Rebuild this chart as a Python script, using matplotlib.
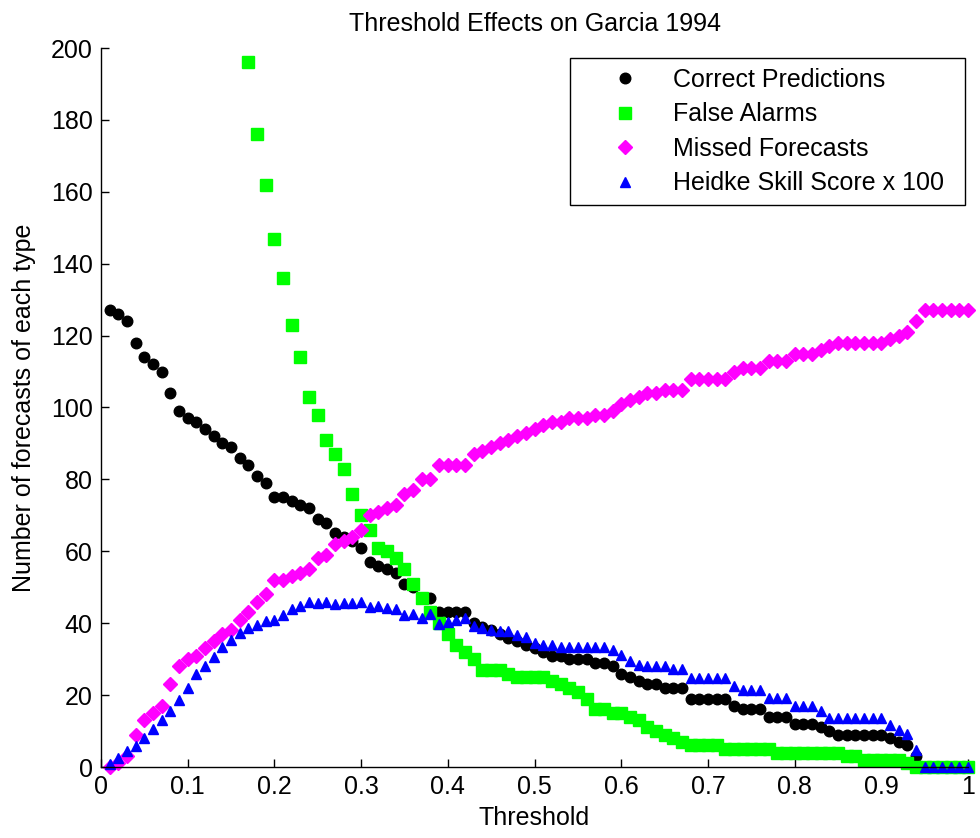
import numpy as np
import matplotlib
matplotlib.use("Agg")
import matplotlib.pyplot as plt

plt.rcParams['font.family'] = ['Liberation Sans', 'DejaVu Sans']

# ---- data (thresholds 0.01 .. 1.00) ----
thresholds = np.arange(1, 101) / 100.0

correct_predictions = [
    127, 126, 124, 118, 114, 112, 110, 104, 99, 97,
    96, 94, 92, 90, 89, 86, 84, 81, 79, 75,
    75, 74, 73, 72, 69, 68, 65, 64, 63, 61,
    57, 56, 55, 54, 51, 50, 47, 47, 43, 43,
    43, 43, 40, 39, 38, 37, 36, 35, 34, 33,
    32, 31, 31, 30, 30, 30, 29, 29, 28, 26,
    25, 24, 23, 23, 22, 22, 22, 19, 19, 19,
    19, 19, 17, 16, 16, 16, 14, 14, 14, 12,
    12, 12, 11, 10, 9, 9, 9, 9, 9, 9,
    8, 7, 6, 3, 0, 0, 0, 0, 0, 0,
]

missed_forecasts = [
    0, 1, 3, 9, 13, 15, 17, 23, 28, 30,
    31, 33, 35, 37, 38, 41, 43, 46, 48, 52,
    52, 53, 54, 55, 58, 59, 62, 63, 64, 66,
    70, 71, 72, 73, 76, 77, 80, 80, 84, 84,
    84, 84, 87, 88, 89, 90, 91, 92, 93, 94,
    95, 96, 96, 97, 97, 97, 98, 98, 99, 101,
    102, 103, 104, 104, 105, 105, 105, 108, 108, 108,
    108, 108, 110, 111, 111, 111, 113, 113, 113, 115,
    115, 115, 116, 117, 118, 118, 118, 118, 118, 118,
    119, 120, 121, 124, 127, 127, 127, 127, 127, 127,
]

# False alarms are above 200 (off the chart) for thresholds below 0.17
false_alarm_thresholds = thresholds[16:]
false_alarms = [
    196, 176, 162, 147,
    136, 123, 114, 103, 98, 91, 87, 83, 76, 70,
    66, 61, 60, 58, 55, 51, 47, 43, 40, 37,
    34, 32, 30, 27, 27, 27, 26, 25, 25, 25,
    25, 24, 23, 22, 21, 19, 16, 16, 15, 15,
    14, 13, 11, 10, 9, 8, 7, 6, 6, 6,
    6, 5, 5, 5, 5, 5, 5, 4, 4, 4,
    4, 4, 4, 4, 4, 3, 3, 2, 2, 2,
    2, 2, 1, 0, 0, 0, 0, 0, 0, 0,
]

heidke_x100 = [
    0.8, 2.6, 4.4, 5.8, 8.1, 10.6, 13.2, 15.5, 18.5, 22.0,
    26.0, 28.0, 30.7, 33.5, 35.3, 37.3, 38.8, 39.4, 40.6, 40.8,
    42.4, 43.9, 44.8, 46.0, 45.5, 46.0, 45.4, 45.6, 45.6, 45.8,
    44.6, 44.8, 44.2, 44.0, 42.3, 42.5, 41.4, 42.5, 39.8, 40.3,
    41.0, 41.4, 39.2, 38.6, 38.1, 37.7, 37.7, 36.8, 36.3, 34.4,
    34.0, 34.0, 33.5, 33.5, 33.5, 33.5, 33.5, 33.5, 32.6, 31.2,
    29.4, 28.4, 28.1, 28.1, 28.2, 27.3, 27.3, 24.7, 24.7, 24.7,
    24.7, 24.7, 22.4, 21.5, 21.5, 21.5, 19.2, 19.2, 19.2, 16.9,
    16.9, 16.9, 15.5, 13.6, 13.6, 13.6, 13.6, 13.6, 13.6, 13.6,
    11.8, 10.4, 9.2, 4.8, 0, 0, 0, 0, 0, 0,
]

series_labels = ["Correct Predictions", "False Alarms", "Missed Forecasts",
                 "Heidke Skill Score x 100"]
x_ticks = [0, 0.1, 0.2, 0.3, 0.4, 0.5, 0.6, 0.7, 0.8, 0.9, 1.0]
x_tick_labels = ["0", "0.1", "0.2", "0.3", "0.4", "0.5", "0.6", "0.7", "0.8", "0.9", "1"]
y_ticks = [0, 20, 40, 60, 80, 100, 120, 140, 160, 180, 200]

# ---- figure ----
W, H = 980, 838
fig = plt.figure(figsize=(W / 100, H / 100), dpi=100)
left, right, top, bottom = 101, 968, 48, 767
ax = fig.add_axes([left / W, 1 - bottom / H, (right - left) / W, (bottom - top) / H])

ax.plot(thresholds, correct_predictions, linestyle='none', marker='o',
        color='#000000', markersize=7.6, clip_on=False, label=series_labels[0])
ax.plot(false_alarm_thresholds, false_alarms, linestyle='none', marker='s',
        color='#00ff00', markersize=8.4, clip_on=False, label=series_labels[1])
ax.plot(thresholds, missed_forecasts, linestyle='none', marker='D',
        color='#ff00ff', markersize=6.7, clip_on=False, label=series_labels[2])
ax.plot(thresholds, heidke_x100, linestyle='none', marker='^',
        color='#0000ff', markersize=7.8, clip_on=False, label=series_labels[3])

ax.set_xlim(0, 1)
ax.set_ylim(0, 200)
ax.set_xticks(x_ticks)
ax.set_xticklabels(x_tick_labels)
ax.set_yticks(y_ticks)

for s in ['top', 'right']:
    ax.spines[s].set_visible(False)
for s in ['left', 'bottom']:
    ax.spines[s].set_linewidth(1.0)
    ax.spines[s].set_color('#000000')

FS = 18
ax.tick_params(direction='in', length=6, width=1.0, labelsize=FS,
               colors='#000000', pad=6)

ax.set_xlabel("Threshold", fontsize=FS, labelpad=5)
ax.set_ylabel("Number of forecasts of each type", fontsize=FS, labelpad=11)
ax.set_title("Threshold Effects on Garcia 1994", fontsize=FS, pad=12)

# legend box: left 570, right 965, top 58 (pixels)
aw, ah = right - left, bottom - top
lx0 = (570 - left) / aw
lx1 = (965 - left) / aw
ly1 = (bottom - 58) / ah
leg = ax.legend(loc='upper left', bbox_to_anchor=(lx0, ly1 - 0.3, lx1 - lx0, 0.3),
                mode='expand', borderaxespad=0, fontsize=FS, frameon=True,
                fancybox=False, framealpha=1, edgecolor='#000000',
                borderpad=0.4, labelspacing=0.42, handlelength=3.6,
                handletextpad=0.1, numpoints=1)
leg.get_frame().set_linewidth(1.0)

fig.savefig("out.png", dpi=100)
